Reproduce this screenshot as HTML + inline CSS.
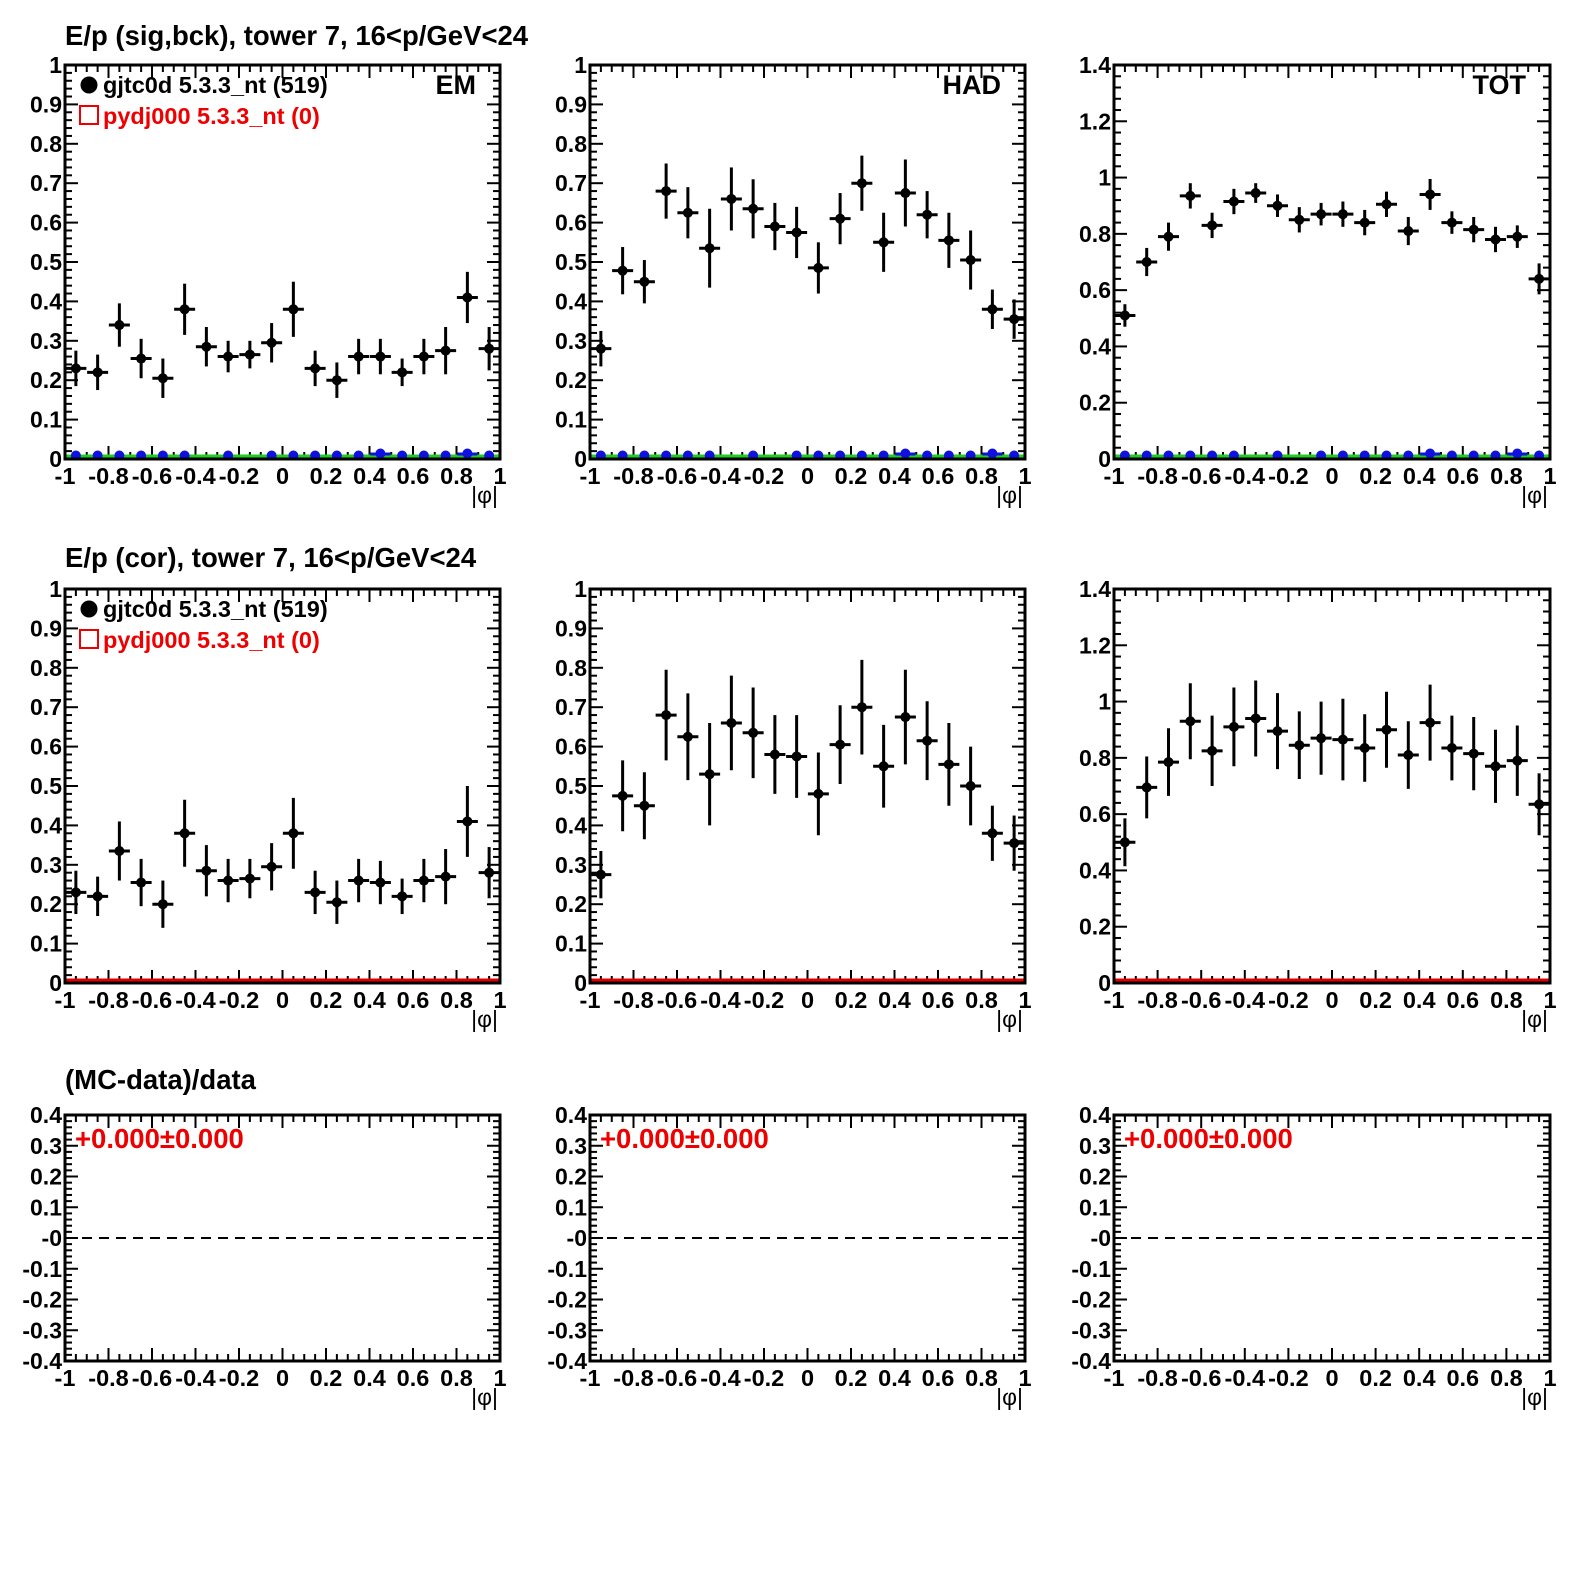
<!DOCTYPE html>
<html><head><meta charset="utf-8"><style>
html,body{margin:0;padding:0;background:#fff}
svg text{font-family:"Liberation Sans",Arial,sans-serif;font-weight:bold}
</style></head><body>
<svg id="s" width="1575" height="1575" xmlns="http://www.w3.org/2000/svg"></svg>
<script>
const S=document.getElementById('s');let h='';
const cols=[[65,500],[590,1025],[1114,1550]];
const rows=[[65,459],[589,983],[1115,1361]];
function fmt(v){let s=(Math.round(v*100)/100).toString();return s;}
function panel(c,r,ymin,ymax,ystep,ylabels,data,opts){
 const [x0,x1]=cols[c],[y0,y1]=rows[r];
 const X=v=>x0+(v+1)/2*(x1-x0), Y=v=>y1-(v-ymin)/(ymax-ymin)*(y1-y0);
 for(let i=0;i<=40;i++){const v=-1+i*0.05;const big=i%4==0;const L=big?13:7;const x=X(v);
  h+=`<line x1="${x}" y1="${y1}" x2="${x}" y2="${y1-L}" stroke="#000" stroke-width="2"/>`;
  h+=`<line x1="${x}" y1="${y0}" x2="${x}" y2="${y0+L}" stroke="#000" stroke-width="2"/>`;}
 const nsub=5;const n=Math.round((ymax-ymin)/ystep*nsub);
 for(let i=0;i<=n;i++){const v=ymin+i*ystep/nsub;const big=i%nsub==0;const L=big?13:7;const y=Y(v);
  h+=`<line x1="${x0}" y1="${y}" x2="${x0+L}" y2="${y}" stroke="#000" stroke-width="2"/>`;
  h+=`<line x1="${x1}" y1="${y}" x2="${x1-L}" y2="${y}" stroke="#000" stroke-width="2"/>`;}
 ylabels.forEach(([v,t])=>{h+=`<text x="${x0-3}" y="${Y(v)+8}" font-size="23" text-anchor="end">${t}</text>`;});
 ['-1','-0.8','-0.6','-0.4','-0.2','0','0.2','0.4','0.6','0.8','1'].forEach((t,i)=>{
  h+=`<text x="${X(-1+i*0.2)}" y="${y1+25}" font-size="23.5" text-anchor="middle">${t}</text>`;});
 h+=`<text x="${x1-2}" y="${y1+44}" font-size="23" text-anchor="end" style="font-weight:normal">|φ|</text>`;
 if(opts.zero) h+=`<line x1="${x0}" y1="${Y(0)-3}" x2="${x1}" y2="${Y(0)-3}" stroke="${opts.zero}" stroke-width="3"/>`;
 if(opts.blue){for(let i=0;i<20;i++){if(i==6||i==8)continue;const x=X(-0.95+i*0.1);const b=(i==14||i==18)?2.5:0.5;
  h+=`<circle cx="${x}" cy="${Y(0)-3-b}" r="5" fill="#1010e0"/>`;
  if(i==14||i==18)h+=`<line x1="${x-10}" y1="${Y(0)-5}" x2="${x+10}" y2="${Y(0)-5}" stroke="#1010e0" stroke-width="3"/>`;}}
 if(opts.dash) h+=`<line x1="${x0}" y1="${Y(0)}" x2="${x1}" y2="${Y(0)}" stroke="#000" stroke-width="2" stroke-dasharray="10,7"/>`;
 if(data){data.v.forEach((v,i)=>{const x=X(-0.95+i*0.1),y=Y(v),e=data.e[i]*(y1-y0)/(ymax-ymin);
  h+=`<line x1="${x}" y1="${y-e}" x2="${x}" y2="${y+e}" stroke="#000" stroke-width="3"/>`;
  h+=`<line x1="${Math.max(x-10.5,x0)}" y1="${y}" x2="${x+10.5}" y2="${y}" stroke="#000" stroke-width="3"/>`;
  h+=`<circle cx="${x}" cy="${y}" r="5" fill="#000"/>`;});}
 h+=`<rect x="${x0}" y="${y0}" width="${x1-x0}" height="${y1-y0}" fill="none" stroke="#000" stroke-width="3"/>`;
 if(opts.label) h+=`<text x="${x1-24}" y="${y0+29}" font-size="27" text-anchor="end">${opts.label}</text>`;
 if(opts.legend){h+=`<circle cx="${x0+24}" cy="${y0+20}" r="8.5" fill="#000"/><text x="${x0+38}" y="${y0+28}" font-size="23.5">gjtc0d 5.3.3_nt (519)</text>`;
  h+=`<rect x="${x0+15}" y="${y0+41}" width="18" height="18" fill="none" stroke="#e00" stroke-width="2"/><text x="${x0+38}" y="${y0+59}" font-size="23.5" fill="#e00">pydj000 5.3.3_nt (0)</text>`;}
 if(opts.ratio) h+=`<text x="${x0+10}" y="${y0+33}" font-size="27.5" fill="#e00">+0.000±0.000</text>`;
}
const L1=[];for(let i=0;i<=10;i++)L1.push([i/10,i==10?'1':i==0?'0':fmt(i/10)]);
const L14=[];for(let i=0;i<=7;i++)L14.push([i*0.2,i==0?'0':fmt(i*0.2)]);
const LR=[];for(let i=-4;i<=4;i++)LR.push([i/10,i==0?'-0':fmt(i/10)]);
const em={v:[0.23,0.22,0.34,0.255,0.205,0.38,0.285,0.26,0.265,0.295,0.38,0.23,0.20,0.26,0.26,0.22,0.26,0.275,0.41,0.28],
 e:[0.045,0.045,0.055,0.05,0.05,0.065,0.05,0.04,0.035,0.05,0.07,0.045,0.045,0.045,0.045,0.035,0.045,0.06,0.065,0.055]};
const had={v:[0.28,0.478,0.45,0.68,0.625,0.535,0.66,0.635,0.59,0.575,0.485,0.61,0.70,0.55,0.675,0.62,0.555,0.505,0.38,0.355],
 e:[0.045,0.06,0.055,0.07,0.065,0.1,0.08,0.075,0.06,0.065,0.065,0.065,0.07,0.075,0.085,0.06,0.07,0.075,0.05,0.05]};
const tot={v:[0.51,0.70,0.79,0.935,0.83,0.915,0.945,0.90,0.85,0.87,0.87,0.84,0.905,0.81,0.94,0.84,0.815,0.78,0.79,0.64],
 e:[0.04,0.05,0.05,0.045,0.045,0.045,0.035,0.04,0.045,0.04,0.045,0.045,0.045,0.05,0.055,0.04,0.045,0.045,0.04,0.055]};
const em2={v:[0.23,0.22,0.335,0.255,0.20,0.38,0.285,0.26,0.265,0.295,0.38,0.23,0.205,0.26,0.255,0.22,0.26,0.27,0.41,0.28],
 e:[0.055,0.05,0.075,0.06,0.06,0.085,0.065,0.055,0.05,0.06,0.09,0.055,0.055,0.055,0.055,0.045,0.055,0.07,0.09,0.065]};
const had2={v:[0.275,0.475,0.45,0.68,0.625,0.53,0.66,0.635,0.58,0.575,0.48,0.605,0.70,0.55,0.675,0.615,0.555,0.50,0.38,0.355],
 e:[0.06,0.09,0.085,0.115,0.11,0.13,0.12,0.115,0.1,0.105,0.105,0.1,0.12,0.105,0.12,0.1,0.105,0.1,0.07,0.07]};
const tot2={v:[0.50,0.695,0.785,0.93,0.825,0.91,0.94,0.895,0.845,0.87,0.865,0.835,0.90,0.81,0.925,0.835,0.815,0.77,0.79,0.635],
 e:[0.085,0.11,0.12,0.135,0.125,0.14,0.135,0.135,0.12,0.13,0.145,0.12,0.135,0.12,0.135,0.115,0.13,0.13,0.125,0.11]};
h+=`<text x="65" y="45" font-size="27.5">E/p (sig,bck), tower 7, 16&lt;p/GeV&lt;24</text>`;
h+=`<text x="65" y="567" font-size="27.5">E/p (cor), tower 7, 16&lt;p/GeV&lt;24</text>`;
h+=`<text x="65" y="1089" font-size="27.5">(MC-data)/data</text>`;
panel(0,0,0,1,0.1,L1,em,{zero:'#22cc22',blue:1,label:'EM',legend:1});
panel(1,0,0,1,0.1,L1,had,{zero:'#22cc22',blue:1,label:'HAD'});
panel(2,0,0,1.4,0.2,L14,tot,{zero:'#22cc22',blue:1,label:'TOT'});
panel(0,1,0,1,0.1,L1,em2,{zero:'#dd0000',legend:1});
panel(1,1,0,1,0.1,L1,had2,{zero:'#dd0000'});
panel(2,1,0,1.4,0.2,L14,tot2,{zero:'#dd0000'});
for(let c=0;c<3;c++)panel(c,2,-0.4,0.4,0.1,LR,null,{dash:1,ratio:1});
S.innerHTML=h;
</script>
</body></html>
